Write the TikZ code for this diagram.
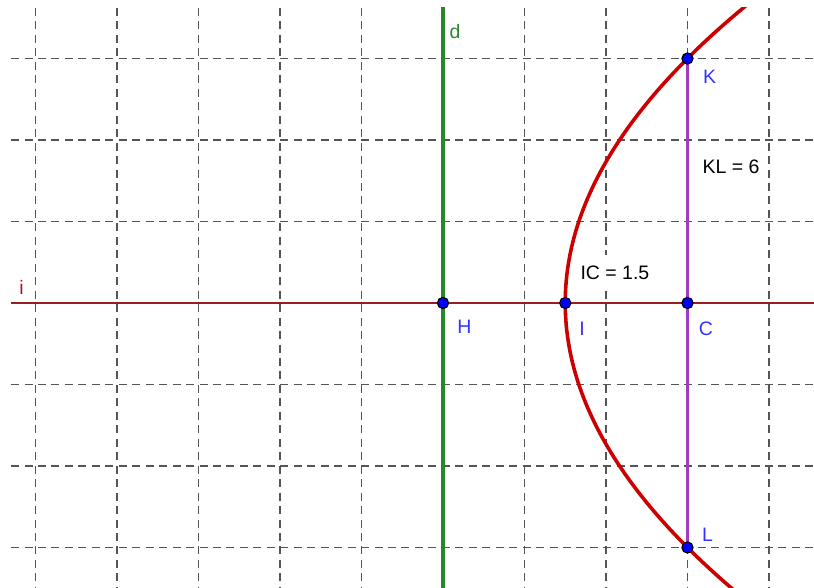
\documentclass[tikz,border=0pt]{standalone}
\usepackage{fontspec}
\setmainfont{Liberation Sans}
\definecolor{gridgray}{RGB}{85,85,85}
\definecolor{axisred}{RGB}{153,30,30}
\definecolor{dgreen}{RGB}{40,135,40}
\definecolor{parred}{RGB}{204,0,0}
\definecolor{segpurple}{RGB}{160,60,190}
\definecolor{ptblue}{RGB}{0,0,255}
\definecolor{lblblue}{RGB}{50,50,255}
\begin{document}
\begin{tikzpicture}[x=1cm,y=1cm,
  gridline/.style={draw=gridgray,line width=0.45pt,dash pattern=on 2.8pt off 1.9pt},
  axisline/.style={draw=axisred,line width=0.85pt},
  dirline/.style={draw=dgreen,line width=1.1pt},
  parab/.style={draw=parred,line width=1.25pt},
  seg/.style={draw=segpurple,line width=0.8pt},
  pt/.style={circle,fill=ptblue,draw=black,line width=0.4pt,inner sep=0pt,minimum size=3.9pt},
  lbl/.style={font=\fontsize{6.8}{8}\selectfont,inner sep=0pt},
]
\useasboundingbox (-5.4356,-3.4969) rectangle (4.5521,3.7178);
\coordinate (H) at (0,0);
\coordinate (I) at (1.5,0);
\coordinate (C) at (3,0);
\coordinate (K) at (3,3);
\coordinate (L) at (3,-3);
\begin{scope}
\clip (-5.30,-3.4969) rectangle (4.5521,3.62);
\foreach \gx in {-5,-4,-3,-2,-1,1,2,3,4}
  \draw[gridline] (\gx,3.62) -- (\gx,-3.6);
\foreach \gy in {-3,-2,-1,1,2,3}
  \draw[gridline] (-5.30,\gy) -- (4.6,\gy);
\draw[axisline] (-5.4,0) -- (4.6,0);
\draw[dirline] (0,3.7) -- (0,-3.6);
\draw[parab] plot[domain=-3.7:3.7,samples=120,smooth] ({1.5+\x*\x/6},\x);
\draw[seg] (K) -- (L);
\end{scope}
\node[pt] (Hp) at (H) {};
\node[pt] (Ip) at (I) {};
\node[pt] (Cp) at (C) {};
\node[pt] (Kp) at (K) {};
\node[pt] (Lp) at (L) {};
\node[lbl,text=dgreen] (dl) at (0.147,3.325) {d};
\node[lbl,text=axisred] (il) at (-5.17,0.19) {i};
\node[lbl,text=lblblue] (Hl) at (0.264,-0.294) {H};
\node[lbl,text=lblblue] (Il) at (1.706,-0.32) {I};
\node[lbl,text=lblblue] (Cl) at (3.227,-0.32) {C};
\node[lbl,text=lblblue] (Kl) at (3.27,2.77) {K};
\node[lbl,text=lblblue] (Ll) at (3.245,-2.84) {L};
\node[lbl] (KLl) at (3.534,1.674) {KL = 6};
\node[lbl,fill=white,inner xsep=1.5pt,inner ysep=4pt] (ICl) at (2.110,0.368) {IC = 1.5};
\end{tikzpicture}
\end{document}
